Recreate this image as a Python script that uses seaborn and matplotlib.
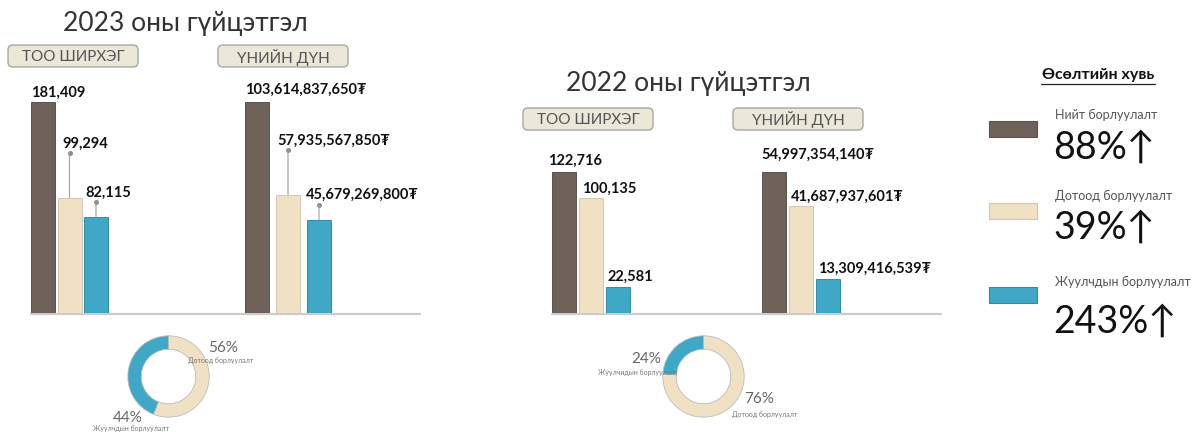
import matplotlib
matplotlib.use("Agg")
import matplotlib.pyplot as plt
from matplotlib.patches import FancyBboxPatch, Rectangle
from matplotlib.lines import Line2D
from matplotlib.transforms import offset_copy
import seaborn as sns

# data
categories = ["Нийт борлуулалт", "Дотоод борлуулалт", "Жуулчдын борлуулалт"]
qty_2023 = [181409, 99294, 82115]
amt_2023 = [103614837650, 57935567850, 45679269800]
qty_2022 = [122716, 100135, 22581]
amt_2022 = [54997354140, 41687937601, 13309416539]

share_2023 = [56, 44]   # domestic, tourist
share_2022 = [76, 24]
share_names_2023 = ["Дотоод борлуулалт", "Жуулчдын борлуулалт"]
share_names_2022 = ["Дотоод борлуулалт", "Жуулчидын борлуулалт"]

growth = [88, 39, 243]
growth_title = "Өсөлтийн хувь"
titles = ["2023 оны гүйцэтгэл", "2022 оны гүйцэтгэл"]
badge_labels = ["ТОО ШИРХЭГ", "ҮНИЙН ДҮН"]

# style
bar_colors = ["#6e6159", "#f0e1c4", "#3ea8c6"]
bar_edges = ["#5e534c", "#d2c7b2", "#2f8ca8"]
FONT = ["Lato", "DejaVu Sans"]

sns.set_theme(style="white")
plt.rcParams["font.family"] = FONT

W, H = 1193, 432
fig = plt.figure(figsize=(W / 100, H / 100), dpi=100)
fig.patch.set_facecolor("white")


def put(x, y, s, **kw):
    return fig.text(x / W, 1 - y / H, s, **kw)


def hline(x0, x1, y, **kw):
    fig.add_artist(Line2D([x0 / 100, x1 / 100], [(H - y) / 100] * 2,
                          transform=fig.dpi_scale_trans, **kw))


def badge(x0, y0, x1, y1, s):
    p = FancyBboxPatch((x0 / 100, (H - y1) / 100), (x1 - x0) / 100, (y1 - y0) / 100,
                       boxstyle="round,pad=0,rounding_size=0.05",
                       transform=fig.dpi_scale_trans, fc="#ebe8da", ec="#a9a69c", lw=1)
    fig.add_artist(p)
    put((x0 + x1) / 2, (y0 + y1) / 2 + 1, s, ha="center", va="center",
        fontsize=11, color="#555555")


def bar_group(c0, sp, base_y, top_y, vals, fmt, text_off, text_dx, dot_off):
    ax = fig.add_axes([(c0 - sp / 2) / W, 1 - base_y / H, 3 * sp / W, (base_y - top_y) / H])
    bw = 24 / sp
    sns.barplot(x=categories, y=vals, hue=categories, palette=bar_colors,
                width=bw, saturation=1, legend=False, ax=ax)
    ax.set_xlim(-0.5, 2.5)
    ax.set_ylim(0, max(vals))
    ax.axis("off")
    for p, ec in zip(ax.patches, bar_edges):
        p.set_edgecolor(ec)
        p.set_linewidth(0.7)
    for i, v in enumerate(vals):
        ax.annotate(fmt(v), xy=(i - bw / 2, v),
                    xytext=(text_dx[i] * 0.72, text_off[i] * 0.72),
                    textcoords="offset points", ha="left", va="baseline",
                    fontsize=10.5, weight="bold", color="#111111",
                    annotation_clip=False)
        if dot_off[i]:
            ax.annotate("", xy=(i, v), xytext=(0, dot_off[i] * 0.72),
                        textcoords="offset points", annotation_clip=False,
                        arrowprops=dict(arrowstyle="-", color="#a0a0a0", lw=0.8,
                                        shrinkA=0, shrinkB=0))
            tr = offset_copy(ax.transData, fig=fig, y=dot_off[i] * 0.72, units="points")
            ax.plot([i], [v], "o", ms=2.6, color="#8c8c8c", transform=tr, clip_on=False)
    return ax


def donut(cx, cy, r, shares):
    ax = fig.add_axes([(cx - r) / W, 1 - (cy + r) / H, 2 * r / W, 2 * r / H])
    ax.pie(shares, colors=[bar_colors[1], bar_colors[2]], startangle=90,
           counterclock=False,
           wedgeprops=dict(width=0.33, edgecolor="#bcbcbc", linewidth=0.6))
    ax.set_xlim(-1.02, 1.02)
    ax.set_ylim(-1.02, 1.02)
    return ax


qty_fmt = lambda v: f"{v:,}"
amt_fmt = lambda v: f"{v:,}₮"

# ---- 2023 panel
put(185, 24, titles[0], ha="center", va="center", fontsize=19, color="#333333")
badge(8, 45, 138, 67, badge_labels[0])
badge(218, 45, 348, 67, badge_labels[1])
hline(31, 420, 313.5, color="#cccccc", lw=1.6, zorder=0)
bar_group(43, 26.5, 313, 102, qty_2023, qty_fmt, [5, 50, 21], [0, 5, 1], [0, 45, 15])
bar_group(257, 31, 313, 102, amt_2023, amt_fmt, [8, 50, 21], [0, 1, -1], [0, 45, 15])

donut(168.5, 376.5, 41.5, share_2023)
put(223, 348, f"{share_2023[0]}%", ha="center", va="center", fontsize=11, color="#666666")
put(221, 361, share_names_2023[0], ha="center", va="center", fontsize=5, color="#777777")
put(128, 418, f"{share_2023[1]}%", ha="center", va="center", fontsize=11, color="#666666")
put(131, 428, share_names_2023[1], ha="center", va="center", fontsize=5, color="#777777")

# ---- 2022 panel
put(688, 84, titles[1], ha="center", va="center", fontsize=19, color="#333333")
badge(523, 108, 653, 130, badge_labels[0])
badge(733, 108, 863, 130, badge_labels[1])
hline(552, 941, 313.5, color="#cccccc", lw=1.6, zorder=0)
bar_group(564, 27, 313, 172, qty_2022, qty_fmt, [7, 5, 6], [-4, 3, 1], [0, 0, 0])
bar_group(773.5, 27, 313, 172, amt_2022, amt_fmt, [13, 5, 6], [0, 2, 3], [0, 0, 0])

donut(703.5, 376.5, 41.5, share_2022)
put(646, 359, f"{share_2022[1]}%", ha="center", va="center", fontsize=11, color="#666666")
put(638, 372, share_names_2022[1], ha="center", va="center", fontsize=5, color="#777777")
put(759, 399, f"{share_2022[0]}%", ha="center", va="center", fontsize=11, color="#666666")
put(765, 415, share_names_2022[0], ha="center", va="center", fontsize=5, color="#777777")

# ---- growth legend
put(1098, 75, growth_title, ha="center", va="center", fontsize=11.5, weight="bold", color="#111111")
hline(1041, 1155, 84, color="#222222", lw=0.9)
sw_y = [121, 203, 287]
name_y = [115, 196, 282]
pct_y = [148, 228, 322]
for k in range(3):
    fig.add_artist(Rectangle((989 / 100, (H - sw_y[k] - 16) / 100), 48 / 100, 16 / 100,
                             transform=fig.dpi_scale_trans, fc=bar_colors[k],
                             ec=bar_edges[k], lw=0.8))
    put(1055, name_y[k], categories[k], ha="left", va="center", fontsize=9, color="#555555")
    put(1053, pct_y[k], f"{growth[k]}%↑", ha="left", va="center", fontsize=27,
        color="#111111")

fig.savefig("out.png", dpi=100, facecolor="white")
